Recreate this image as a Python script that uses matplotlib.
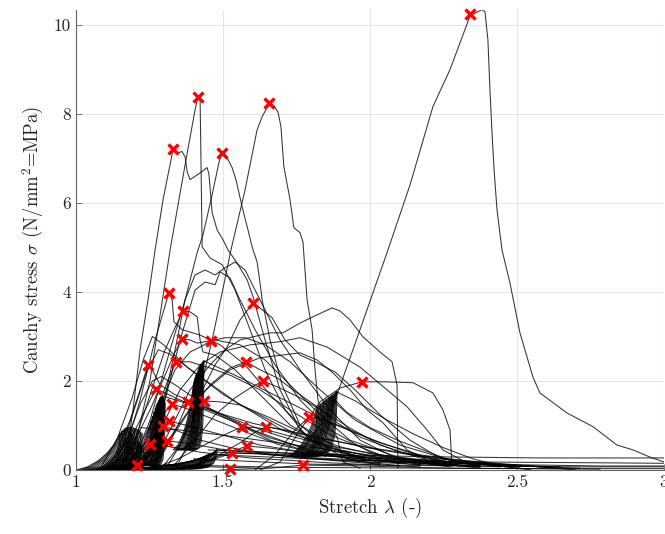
import matplotlib
matplotlib.use("Agg")
import matplotlib.pyplot as plt
import numpy as np

plt.rcParams["font.family"] = ["cmr10", "DejaVu Serif"]
plt.rcParams["mathtext.fontset"] = "cm"
plt.rcParams["axes.formatter.use_mathtext"] = True
plt.rcParams["axes.unicode_minus"] = False

# ---- datos: curvas individuales (estiramiento, tension) ----
c01_lam = [1.73, 1.78, 1.83, 1.866, 1.891, 1.966, 2.061, 2.136, 2.214, 2.272, 2.323, 2.340, 2.361,
           2.381, 2.391, 2.401, 2.408, 2.415, 2.422, 2.432, 2.449, 2.476, 2.510, 2.554, 2.578, 2.670,
           2.759, 2.840, 2.895, 2.952, 3.0]
c01_sig = [0.30, 0.55, 1.00, 1.40, 1.75, 3.15, 4.94, 6.40, 8.16, 8.99, 9.89, 10.20, 10.27,
           10.34, 10.29, 9.66, 8.54, 7.57, 6.74, 5.84, 4.94, 4.20, 3.08, 2.09, 1.73, 1.28,
           0.97, 0.56, 0.45, 0.29, 0.18]

c02_lam = [1.133, 1.167, 1.201, 1.252, 1.320, 1.371, 1.405, 1.415, 1.422, 1.425, 1.429, 1.456, 1.497,
           1.541, 1.592, 1.643, 1.711, 1.796, 1.932, 2.102]
c02_sig = [0.0, 0.18, 0.56, 2.02, 4.94, 6.85, 8.09, 8.38, 8.36, 6.97, 5.01, 4.76, 4.61,
           4.04, 3.15, 2.25, 1.35, 0.67, 0.22, 0.09]

c03_lam = [1.337, 1.371, 1.422, 1.463, 1.497, 1.527, 1.575, 1.616, 1.633, 1.656, 1.673, 1.687, 1.697,
           1.707, 1.728, 1.741, 1.762, 1.772, 1.786, 1.803, 1.813, 1.823, 1.840, 1.888, 1.908, 1.966]
c03_sig = [0.0, 0.45, 1.80, 2.92, 3.98, 4.94, 6.29, 7.64, 7.93, 8.22, 8.18, 8.04, 7.71,
           6.81, 6.07, 5.44, 5.33, 5.12, 3.82, 3.15, 2.25, 1.57, 1.19, 0.74, 0.18, 0.04]

c04_lam = [1.143, 1.170, 1.194, 1.218, 1.245, 1.269, 1.296, 1.330, 1.344, 1.361, 1.371, 1.378, 1.388,
           1.422, 1.446, 1.452, 1.463, 1.480, 1.500, 1.517, 1.548, 1.582, 1.602, 1.643, 1.694, 1.762,
           1.864, 2.034]
c04_sig = [0.0, 0.27, 1.35, 2.70, 3.82, 4.94, 6.07, 7.19, 7.12, 7.15, 7.03, 6.70, 6.52,
           6.67, 6.79, 6.65, 5.78, 5.39, 5.17, 4.94, 4.65, 4.27, 3.89, 2.92, 1.80, 0.90,
           0.34, 0.11]

c05_lam = [1.218, 1.252, 1.293, 1.337, 1.371, 1.412, 1.432, 1.463, 1.486, 1.497, 1.514, 1.531, 1.544,
           1.565, 1.585, 1.599, 1.616, 1.626, 1.633, 1.660, 1.701, 1.762, 1.864, 2.034]
c05_sig = [0.0, 0.34, 1.35, 2.70, 3.82, 4.88, 5.28, 6.18, 6.90, 7.12, 7.01, 6.79, 6.52,
           5.91, 5.39, 5.01, 4.67, 4.20, 3.82, 2.92, 1.91, 1.01, 0.45, 0.16]

m06_lam = [1.122, 1.167, 1.218, 1.269, 1.316, 1.327, 1.333, 1.361, 1.422, 1.490, 1.575, 1.660, 1.762, 1.898, 2.102, 2.374]
m06_sig = [0.0, 0.45, 1.57, 2.92, 3.98, 3.82, 3.33, 3.15, 3.03, 2.81, 2.36, 1.69, 1.01, 0.45, 0.18, 0.07]

m07_lam = [1.150, 1.201, 1.252, 1.303, 1.344, 1.364, 1.388, 1.412, 1.422, 1.432, 1.473, 1.541, 1.626, 1.728, 1.864, 2.102, 2.442]
m07_sig = [0.0, 0.67, 1.69, 2.70, 3.30, 3.57, 3.55, 3.44, 2.92, 2.65, 2.58, 2.25, 1.69, 1.01, 0.49, 0.18, 0.07]

m08_lam = [1.303, 1.354, 1.422, 1.473, 1.514, 1.558, 1.602, 1.633, 1.667, 1.711, 1.762, 1.813, 1.881, 1.949, 2.034, 2.136, 2.238, 2.374]
m08_sig = [0.0, 0.56, 1.69, 2.36, 2.76, 3.37, 3.75, 3.60, 3.42, 2.92, 2.58, 2.43, 2.20, 1.80, 1.24, 0.67, 0.27, 0.09]

m09_lam = [1.143, 1.201, 1.252, 1.303, 1.337, 1.361, 1.388, 1.412, 1.473, 1.558, 1.643, 1.728, 1.830, 1.932, 2.102, 2.306]
m09_sig = [0.0, 0.67, 1.35, 2.13, 2.65, 2.94, 2.92, 2.85, 2.92, 2.81, 2.47, 1.91, 1.24, 0.67, 0.27, 0.09]

m10_lam = [1.167, 1.218, 1.286, 1.337, 1.388, 1.422, 1.459, 1.507, 1.575, 1.643, 1.728, 1.830, 1.949, 2.102, 2.272, 2.510]
m10_sig = [0.0, 0.56, 1.46, 2.25, 2.65, 2.76, 2.90, 2.97, 2.97, 2.81, 2.43, 1.80, 1.12, 0.56, 0.22, 0.09]

m11_lam = [1.177, 1.218, 1.269, 1.313, 1.340, 1.388, 1.456, 1.524, 1.626, 1.728, 1.864, 2.034, 2.272]
m11_sig = [0.0, 0.45, 1.24, 2.02, 2.43, 2.43, 2.29, 2.13, 1.80, 1.35, 0.79, 0.34, 0.11]

m12_lam = [1.082, 1.133, 1.184, 1.218, 1.245, 1.259, 1.286, 1.337, 1.422, 1.524, 1.660, 1.830, 2.102]
m12_sig = [0.0, 0.34, 1.12, 1.80, 2.36, 2.25, 1.91, 1.69, 1.46, 1.12, 0.67, 0.34, 0.16]

m13_lam = [1.252, 1.320, 1.388, 1.456, 1.524, 1.578, 1.626, 1.684, 1.738, 1.820, 1.888, 1.966, 2.102, 2.272, 2.510]
m13_sig = [0.0, 0.67, 1.35, 1.91, 2.29, 2.43, 2.25, 2.07, 1.80, 1.42, 1.06, 0.74, 0.40, 0.18, 0.07]

m14_lam = [1.320, 1.405, 1.473, 1.541, 1.592, 1.636, 1.694, 1.762, 1.847, 1.932, 2.034, 2.170, 2.374]
m14_sig = [0.0, 0.67, 1.24, 1.62, 1.84, 2.00, 1.84, 1.62, 1.30, 0.94, 0.56, 0.27, 0.09]

m15_lam = [1.626, 1.694, 1.762, 1.830, 1.898, 1.973, 2.044, 2.146, 2.214, 2.248, 2.272, 2.279]
m15_sig = [0.0, 0.18, 0.90, 1.53, 1.84, 1.98, 1.98, 1.96, 1.73, 1.35, 0.90, 0.07]

u01_lam = [1.252, 1.320, 1.388, 1.456, 1.507, 1.558, 1.660, 1.704, 1.762, 1.806, 1.871, 1.898, 1.932, 1.976, 2.034, 2.075, 2.092, 2.095]
u01_sig = [0.0, 0.90, 1.80, 2.36, 2.70, 2.92, 3.08, 3.08, 3.30, 3.44, 3.64, 3.57, 3.37, 2.99, 2.65, 2.43, 1.91, 0.04]

u02_lam = [1.218, 1.286, 1.354, 1.422, 1.490, 1.592, 1.694, 1.762, 1.854, 1.966, 2.058, 2.126, 2.194, 2.248, 2.330, 2.510]
u02_sig = [0.0, 0.90, 1.80, 2.36, 2.65, 2.81, 2.88, 2.97, 2.76, 2.31, 1.80, 1.42, 0.90, 0.45, 0.16, 0.04]

u03_lam = [1.252, 1.337, 1.422, 1.524, 1.626, 1.762, 1.820, 1.874, 1.932, 1.990, 2.044, 2.126, 2.214, 2.374]
u03_sig = [0.0, 0.90, 1.69, 2.25, 2.52, 2.63, 2.47, 2.18, 1.80, 1.35, 1.06, 0.45, 0.16, 0.04]

u04_lam = [1.184, 1.252, 1.320, 1.371, 1.405, 1.439, 1.473, 1.507, 1.541, 1.575, 1.626, 1.694, 1.762, 1.864, 1.966, 2.102, 2.272]
u04_sig = [0.0, 1.12, 2.70, 3.82, 4.38, 4.49, 4.38, 4.54, 4.67, 4.49, 3.82, 2.92, 2.25, 1.35, 0.67, 0.22, 0.07]

u05_lam = [1.218, 1.286, 1.354, 1.405, 1.439, 1.473, 1.490, 1.524, 1.558, 1.609, 1.677, 1.762, 1.864, 2.000, 2.170]
u05_sig = [0.0, 1.12, 2.92, 4.04, 4.22, 4.16, 4.45, 4.31, 3.82, 3.15, 2.36, 1.57, 0.90, 0.40, 0.11]

m16_lam = [1.116, 1.167, 1.218, 1.252, 1.272, 1.303, 1.354, 1.422, 1.524, 1.660, 1.830, 2.102, 2.374]
m16_sig = [0.0, 0.45, 1.12, 1.57, 1.82, 1.73, 1.57, 1.39, 1.12, 0.72, 0.40, 0.18, 0.07]

m17_lam = [1.167, 1.218, 1.269, 1.303, 1.327, 1.371, 1.456, 1.558, 1.694, 1.864, 2.170]
m17_sig = [0.0, 0.45, 0.94, 1.30, 1.48, 1.39, 1.17, 0.90, 0.56, 0.31, 0.11]

m18_lam = [1.252, 1.303, 1.347, 1.381, 1.422, 1.524, 1.660, 1.830, 2.034, 2.306]
m18_sig = [0.0, 0.45, 1.01, 1.53, 1.46, 1.17, 0.83, 0.49, 0.22, 0.09]

m19_lam = [1.286, 1.354, 1.405, 1.435, 1.490, 1.558, 1.660, 1.762, 1.898, 2.102, 2.374]
m19_sig = [0.0, 0.56, 1.24, 1.55, 1.53, 1.46, 1.17, 0.85, 0.52, 0.22, 0.07]

m20_lam = [1.609, 1.677, 1.745, 1.793, 1.847, 1.932, 2.034, 2.170, 2.374, 2.646]
m20_sig = [0.0, 0.34, 0.90, 1.19, 1.12, 0.90, 0.61, 0.34, 0.16, 0.04]

m21_lam = [1.150, 1.218, 1.269, 1.296, 1.337, 1.422, 1.558, 1.762, 2.034]
m21_sig = [0.0, 0.34, 0.72, 0.99, 0.90, 0.67, 0.45, 0.27, 0.13]

m22_lam = [1.184, 1.252, 1.293, 1.316, 1.371, 1.473, 1.626, 1.830, 2.102]
m22_sig = [0.0, 0.45, 0.90, 1.10, 1.01, 0.83, 0.56, 0.34, 0.16]

m23_lam = [1.252, 1.354, 1.456, 1.524, 1.565, 1.626, 1.728, 1.864, 2.034, 2.238, 2.510]
m23_sig = [0.0, 0.27, 0.63, 0.85, 0.97, 0.94, 0.76, 0.54, 0.34, 0.18, 0.07]

m24_lam = [1.354, 1.456, 1.558, 1.609, 1.646, 1.711, 1.830, 2.000, 2.204, 2.442, 2.714]
m24_sig = [0.0, 0.22, 0.61, 0.85, 0.97, 0.90, 0.72, 0.49, 0.27, 0.11, 0.04]

m25_lam = [1.082, 1.150, 1.211, 1.248, 1.303, 1.422, 1.592, 1.864, 2.170]
m25_sig = [0.0, 0.11, 0.38, 0.58, 0.54, 0.40, 0.27, 0.16, 0.07]

m26_lam = [1.150, 1.218, 1.279, 1.310, 1.371, 1.490, 1.660, 1.932, 2.272]
m26_sig = [0.0, 0.18, 0.49, 0.65, 0.61, 0.47, 0.34, 0.20, 0.09]

m27_lam = [1.320, 1.422, 1.524, 1.582, 1.660, 1.796, 2.000, 2.272, 2.646]
m27_sig = [0.0, 0.16, 0.40, 0.54, 0.49, 0.38, 0.27, 0.16, 0.07]

m28_lam = [1.320, 1.422, 1.490, 1.531, 1.626, 1.762, 2.034, 2.374, 2.782, 3.0]
m28_sig = [0.0, 0.11, 0.29, 0.38, 0.36, 0.29, 0.20, 0.13, 0.09, 0.09]

m29_lam = [1.490, 1.660, 1.772, 1.966, 2.272, 2.782]
m29_sig = [0.0, 0.04, 0.11, 0.09, 0.04, 0.02]

m30_lam = [1.082, 1.167, 1.207, 1.354, 1.626]
m30_sig = [0.0, 0.07, 0.11, 0.09, 0.04]

# curvas del abanico inicial
f01_lam = [1.10, 1.16, 1.20, 1.24, 1.28, 1.32, 1.40, 1.55, 1.75, 2.00]
f01_sig = [0.0, 0.60, 1.40, 2.20, 2.70, 2.60, 2.20, 1.50, 0.80, 0.20]
f02_lam = [1.08, 1.14, 1.19, 1.23, 1.26, 1.30, 1.38, 1.50, 1.70, 1.95]
f02_sig = [0.0, 0.70, 1.60, 2.50, 3.00, 2.80, 2.30, 1.70, 0.90, 0.30]
f03_lam = [1.12, 1.18, 1.22, 1.26, 1.29, 1.34, 1.45, 1.60, 1.85]
f03_sig = [0.0, 0.80, 1.50, 2.00, 2.10, 1.90, 1.40, 0.90, 0.30]

# colas largas casi horizontales
t01_lam = [1.48, 1.762, 2.17, 2.578, 3.0]
t01_sig = [0.45, 0.36, 0.30, 0.27, 0.27]
t02_lam = [1.45, 1.90, 2.37, 2.80, 3.0]
t02_sig = [0.35, 0.22, 0.18, 0.16, 0.15]
t03_lam = [1.40, 1.80, 2.30, 2.70, 3.0]
t03_sig = [0.25, 0.13, 0.09, 0.07, 0.07]
t04_lam = [1.30, 1.70, 2.20, 2.65, 3.0]
t04_sig = [0.12, 0.06, 0.04, 0.03, 0.03]
t05_lam = [1.48, 1.90, 2.30, 2.60, 2.70]
t05_sig = [0.40, 0.30, 0.18, 0.06, 0.0]
t06_lam = [1.45, 1.85, 2.20, 2.45, 2.55]
t06_sig = [0.45, 0.35, 0.22, 0.08, 0.0]
t07_lam = [1.888, 1.95, 2.05, 2.15, 2.25, 2.35, 2.45]
t07_sig = [1.75, 1.55, 1.15, 0.80, 0.50, 0.25, 0.08]
t08_lam = [1.87, 1.92, 2.00, 2.10, 2.20, 2.30]
t08_sig = [1.65, 1.30, 0.95, 0.65, 0.40, 0.15]
t09_lam = [1.435, 1.55, 1.70, 1.85, 2.00, 2.15, 2.30]
t09_sig = [2.45, 2.10, 1.60, 1.10, 0.70, 0.35, 0.10]
t10_lam = [1.22, 1.35, 1.50, 1.70, 1.90, 2.10, 2.35]
t10_sig = [0.95, 0.90, 0.78, 0.60, 0.42, 0.25, 0.08]
t11_lam = [1.30, 1.45, 1.60, 1.80, 2.00, 2.25, 2.60]
t11_sig = [1.65, 1.35, 1.05, 0.75, 0.50, 0.25, 0.06]

curvas = [
    (c01_lam, c01_sig), (c02_lam, c02_sig), (c03_lam, c03_sig), (c04_lam, c04_sig), (c05_lam, c05_sig),
    (m06_lam, m06_sig), (m07_lam, m07_sig), (m08_lam, m08_sig), (m09_lam, m09_sig), (m10_lam, m10_sig),
    (m11_lam, m11_sig), (m12_lam, m12_sig), (m13_lam, m13_sig), (m14_lam, m14_sig), (m15_lam, m15_sig),
    (u01_lam, u01_sig), (u02_lam, u02_sig), (u03_lam, u03_sig), (u04_lam, u04_sig), (u05_lam, u05_sig),
    (m16_lam, m16_sig), (m17_lam, m17_sig), (m18_lam, m18_sig), (m19_lam, m19_sig), (m20_lam, m20_sig),
    (m21_lam, m21_sig), (m22_lam, m22_sig), (m23_lam, m23_sig), (m24_lam, m24_sig), (m25_lam, m25_sig),
    (m26_lam, m26_sig), (m27_lam, m27_sig), (m28_lam, m28_sig), (m29_lam, m29_sig), (m30_lam, m30_sig),
    (f01_lam, f01_sig), (f02_lam, f02_sig), (f03_lam, f03_sig),
    (t01_lam, t01_sig), (t02_lam, t02_sig), (t03_lam, t03_sig), (t04_lam, t04_sig),
    (t05_lam, t05_sig), (t06_lam, t06_sig), (t07_lam, t07_sig), (t08_lam, t08_sig),
    (t09_lam, t09_sig), (t10_lam, t10_sig), (t11_lam, t11_sig),
]

# ---- datos: ciclos de carga (inicio, pico) por grupo ----
A_start = [1.00, 1.01, 1.02, 1.03, 1.04, 1.05, 1.06, 1.07, 1.08, 1.09, 1.10, 1.11, 1.12, 1.13,
           1.14, 1.15, 1.05, 1.07, 1.09, 1.11, 1.13, 1.15, 1.16, 1.17,
           1.06, 1.08, 1.10, 1.12, 1.14, 1.16, 1.07, 1.09, 1.11, 1.13]
A_peak_lam = [1.15, 1.155, 1.16, 1.165, 1.17, 1.175, 1.18, 1.185, 1.19, 1.195, 1.20, 1.205, 1.21,
              1.215, 1.22, 1.225, 1.21, 1.215, 1.22, 1.225, 1.23, 1.235, 1.235, 1.24,
              1.185, 1.19, 1.195, 1.20, 1.21, 1.22, 1.17, 1.175, 1.18, 1.19]
A_peak_sig = [0.82, 0.86, 0.89, 0.92, 0.94, 0.95, 0.96, 0.96, 0.95, 0.94, 0.93, 0.92, 0.90, 0.88,
              0.85, 0.82, 0.65, 0.60, 0.55, 0.50, 0.45, 0.40, 0.35, 0.30,
              0.85, 0.80, 0.75, 0.70, 0.62, 0.55, 0.70, 0.62, 0.55, 0.48]
A_base = 0.0

B_start = [1.17, 1.18, 1.19, 1.20, 1.21, 1.215, 1.22, 1.225, 1.23, 1.235, 1.24, 1.245, 1.25,
           1.255, 1.26, 1.265, 1.27, 1.275, 1.20, 1.22, 1.24, 1.26]
B_peak_lam = [1.255, 1.26, 1.265, 1.27, 1.273, 1.276, 1.279, 1.282, 1.284, 1.286, 1.288, 1.29,
              1.292, 1.294, 1.296, 1.298, 1.30, 1.303, 1.275, 1.283, 1.29, 1.298]
B_peak_sig = [1.10, 1.20, 1.30, 1.38, 1.44, 1.48, 1.52, 1.56, 1.59, 1.61, 1.63, 1.64, 1.65,
              1.64, 1.62, 1.60, 1.56, 1.50, 1.15, 1.25, 1.35, 1.30]
B_base = 0.1

C_start = [1.33, 1.335, 1.34, 1.345, 1.35, 1.355, 1.36, 1.365, 1.37, 1.375, 1.38, 1.385, 1.39,
           1.395, 1.40]
C_peak_lam = [1.40, 1.403, 1.405, 1.408, 1.41, 1.413, 1.416, 1.418, 1.42, 1.423, 1.425, 1.428,
              1.43, 1.432, 1.435]
C_peak_sig = [1.95, 2.02, 2.07, 2.12, 2.16, 2.20, 2.24, 2.28, 2.31, 2.34, 2.37, 2.39, 2.41,
              2.43, 2.45]
C_base = 0.45

D_start = [1.12, 1.14, 1.16, 1.18, 1.20, 1.22, 1.24, 1.26, 1.28, 1.30, 1.32, 1.34, 1.36]
D_peak_lam = [1.43, 1.435, 1.44, 1.445, 1.45, 1.455, 1.46, 1.465, 1.47, 1.472, 1.475, 1.478, 1.48]
D_peak_sig = [0.26, 0.28, 0.30, 0.32, 0.34, 0.36, 0.37, 0.38, 0.40, 0.41, 0.43, 0.44, 0.46]
D_base = 0.02

E_start = [1.715, 1.72, 1.725, 1.73, 1.735, 1.74, 1.745, 1.75, 1.755, 1.76, 1.765, 1.77, 1.775,
           1.78, 1.79, 1.80]
E_peak_lam = [1.82, 1.826, 1.832, 1.838, 1.843, 1.848, 1.853, 1.858, 1.862, 1.866, 1.870, 1.874,
              1.878, 1.882, 1.885, 1.888]
E_peak_sig = [1.40, 1.44, 1.48, 1.51, 1.54, 1.57, 1.59, 1.61, 1.63, 1.65, 1.67, 1.69, 1.71,
              1.73, 1.75, 1.76]
E_base = 0.3

grupos = [
    (A_start, A_peak_lam, A_peak_sig, A_base),
    (B_start, B_peak_lam, B_peak_sig, B_base),
    (C_start, C_peak_lam, C_peak_sig, C_base),
    (D_start, D_peak_lam, D_peak_sig, D_base),
    (E_start, E_peak_lam, E_peak_sig, E_base),
]

# forma normalizada de un ciclo (carga y descarga)
carga_u = [0.0, 0.25, 0.5, 0.7, 0.85, 1.0]
carga_v = [0.0, 0.08, 0.25, 0.46, 0.68, 1.0]
descarga_u = [1.0, 0.97, 0.9, 0.75, 0.5, 0.2]
descarga_v = [1.0, 0.60, 0.30, 0.10, 0.02, 0.0]

# ---- datos: puntos marcados ----
pico_lam = [2.340, 1.415, 1.656, 1.330, 1.497, 1.316, 1.364, 1.602, 1.361, 1.459, 1.340, 1.245, 1.578,
            1.636, 1.973, 1.272, 1.326, 1.381, 1.435, 1.793, 1.297, 1.316, 1.565, 1.646, 1.250, 1.311,
            1.583, 1.531, 1.524, 1.772, 1.207]
pico_sig = [10.25, 8.38, 8.25, 7.21, 7.12, 3.98, 3.57, 3.75, 2.94, 2.90, 2.43, 2.36, 2.43,
            2.00, 1.98, 1.82, 1.48, 1.53, 1.55, 1.19, 0.99, 1.10, 0.97, 0.97, 0.58, 0.65,
            0.54, 0.38, 0.03, 0.11, 0.11]


fig = plt.figure(figsize=(6.65, 5.34), dpi=100)
ax = fig.add_axes([0.1143, 0.1199, 0.8842, 0.8614])

estilo = dict(color="k", lw=0.75, alpha=0.8, solid_joinstyle="round")

for lam, sig in curvas:
    ax.plot(lam, sig, **estilo)

cu, cv = np.array(carga_u), np.array(carga_v)
du, dv = np.array(descarga_u), np.array(descarga_v)
for inicio, p_lam, p_sig, base in grupos:
    for x0, xp, yp in zip(inicio, p_lam, p_sig):
        ax.plot(x0 + cu * (xp - x0), base + cv * (yp - base), **estilo)
        ax.plot(x0 + du * (xp - x0), base + dv * (yp - base), **estilo)

ax.plot(pico_lam, pico_sig, linestyle="none", marker="x", color="#ff0000",
        markersize=6.5, markeredgewidth=2.4, zorder=5, clip_on=False)

ax.set_xlim(1, 3)
ax.set_ylim(0, 10.33)
ax.set_xticks([1, 1.5, 2, 2.5, 3])
ax.set_xticklabels(["1", "1.5", "2", "2.5", "3"])
ax.set_yticks([0, 2, 4, 6, 8, 10])
ax.set_yticklabels(["0", "2", "4", "6", "8", "10"])

ax.grid(True, color="#e6e6e6", lw=0.8)
ax.set_axisbelow(True)
for lado in ["top", "right"]:
    ax.spines[lado].set_visible(False)
for lado in ["left", "bottom"]:
    ax.spines[lado].set_color("#666666")
    ax.spines[lado].set_linewidth(0.8)
ax.tick_params(direction="in", length=4, width=0.6, color="#666666",
               labelsize=12.5, labelcolor="#262626")

ax.set_xlabel(r"Stretch $\lambda$ (-)", fontsize=13.5, color="#262626", labelpad=4)
ax.set_ylabel(r"Cauchy stress $\sigma$ (N/mm$^2$=MPa)", fontsize=13.5, color="#262626", labelpad=6)

fig.savefig("out.png", dpi=100)
